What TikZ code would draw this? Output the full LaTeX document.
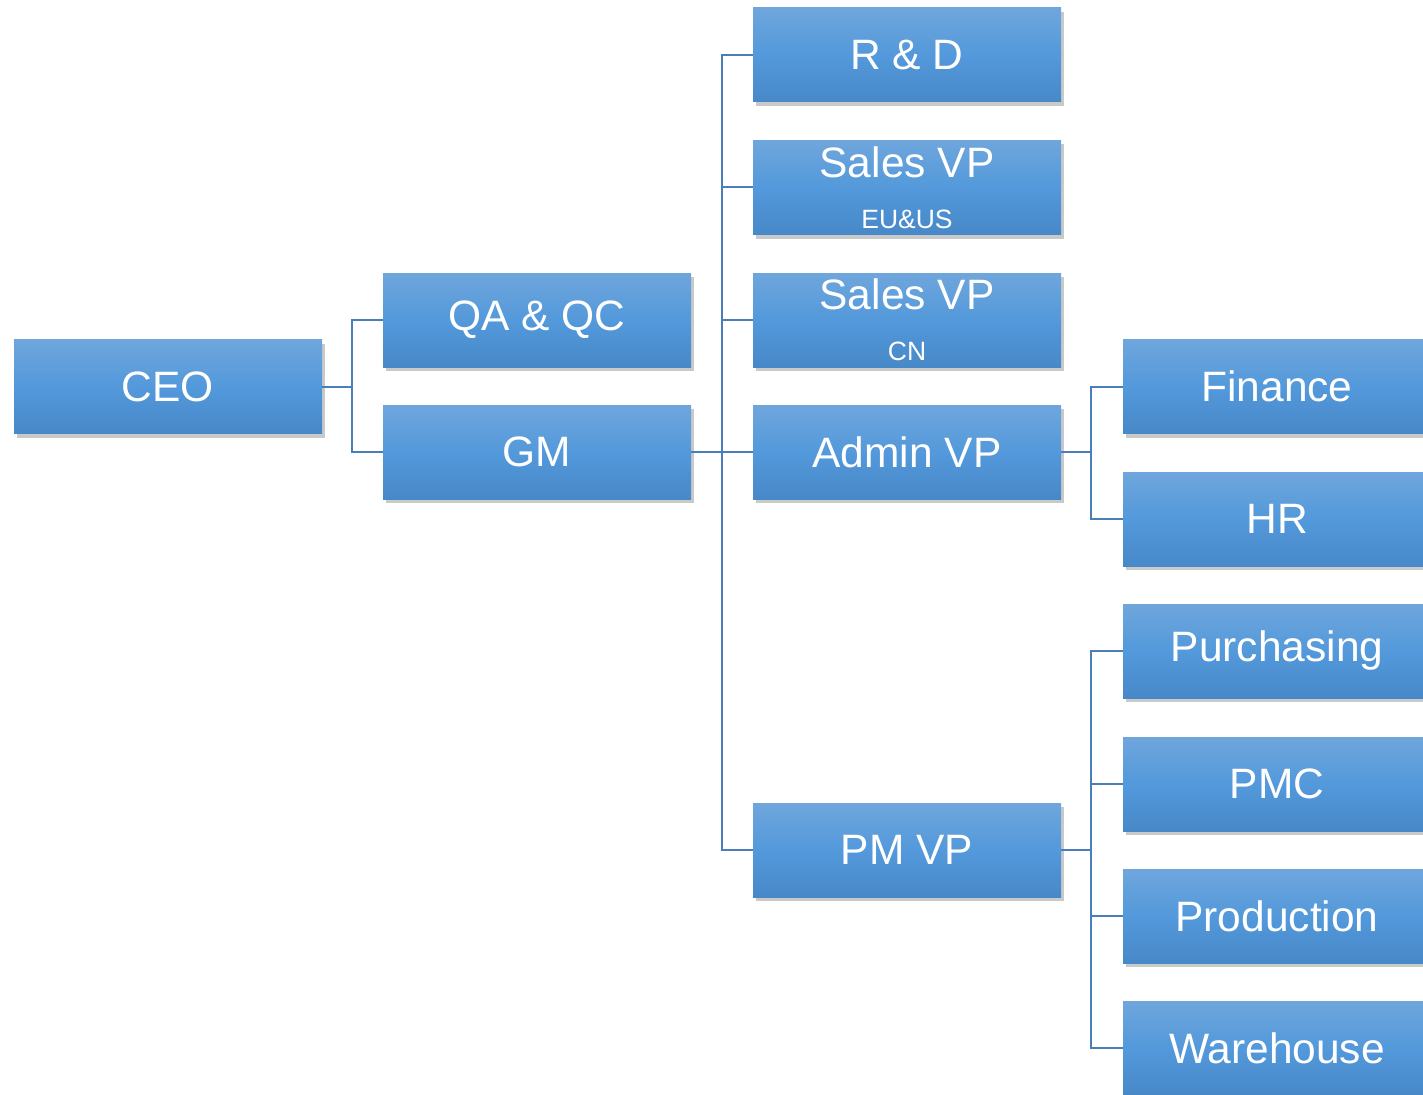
\documentclass[tikz,border=0pt]{standalone}
\usepackage{fontspec}
\setmainfont{Liberation Sans}
\usetikzlibrary{shadows}
\definecolor{boxtop}{HTML}{6FA6DC}
\definecolor{boxmid}{HTML}{5399DB}
\definecolor{boxbot}{HTML}{4788C8}
\definecolor{linkc}{HTML}{4A7EBB}
\tikzset{
  orgbox/.style={rectangle, minimum width=308pt, minimum height=94pt, inner sep=0pt,
    top color=boxtop, bottom color=boxbot, middle color=boxmid,
    text=white, font=\fontsize{42.5}{51}\selectfont, align=center,
    drop shadow={shadow xshift=3pt, shadow yshift=-4pt, opacity=0.3, fill=black!70}},
  link/.style={draw=linkc, line width=2pt}
}
\newcommand{\subl}[1]{{\fontsize{26.5}{30}\selectfont #1}}
\begin{document}
\begin{tikzpicture}[x=1pt,y=-1pt]
\useasboundingbox (0,0) rectangle (1423,1094);
\node[orgbox] (ceo) at (168,386.5) {CEO};
\node[orgbox] (qa) at (537,320) {QA \& QC};
\node[orgbox] (gm) at (537,452) {GM};
\node[orgbox] (rd) at (907,55) {R \& D};
\node[orgbox] (s1) at (907,187.5) {Sales VP\\\subl{EU\&US}};
\node[orgbox] (s2) at (907,320) {Sales VP\\\subl{CN}};
\node[orgbox] (adm) at (907,452) {Admin VP};
\node[orgbox] (pm) at (907,850) {PM VP};
\node[orgbox] (fin) at (1277,386.5) {Finance};
\node[orgbox] (hr) at (1277,519) {HR};
\node[orgbox] (pur) at (1277,651) {Purchasing};
\node[orgbox] (pmc) at (1277,784) {PMC};
\node[orgbox] (pro) at (1277,916) {Production};
\node[orgbox] (wh) at (1277,1048) {Warehouse};
% connectors
\coordinate (j1) at (352,386.5);
\coordinate (j2) at (722,452);
\coordinate (j3) at (1091,452);
\coordinate (j4) at (1091,850);
\draw[link] (ceo.east) -- (j1);
\foreach \t in {qa,gm} \draw[link] (j1) |- (\t.west);
\draw[link] (gm.east) -- (j2);
\foreach \t in {rd,s1,s2,adm,pm} \draw[link] (j2) |- (\t.west);
\draw[link] (adm.east) -- (j3);
\foreach \t in {fin,hr} \draw[link] (j3) |- (\t.west);
\draw[link] (pm.east) -- (j4);
\foreach \t in {pur,pmc,pro,wh} \draw[link] (j4) |- (\t.west);
\end{tikzpicture}
\end{document}
